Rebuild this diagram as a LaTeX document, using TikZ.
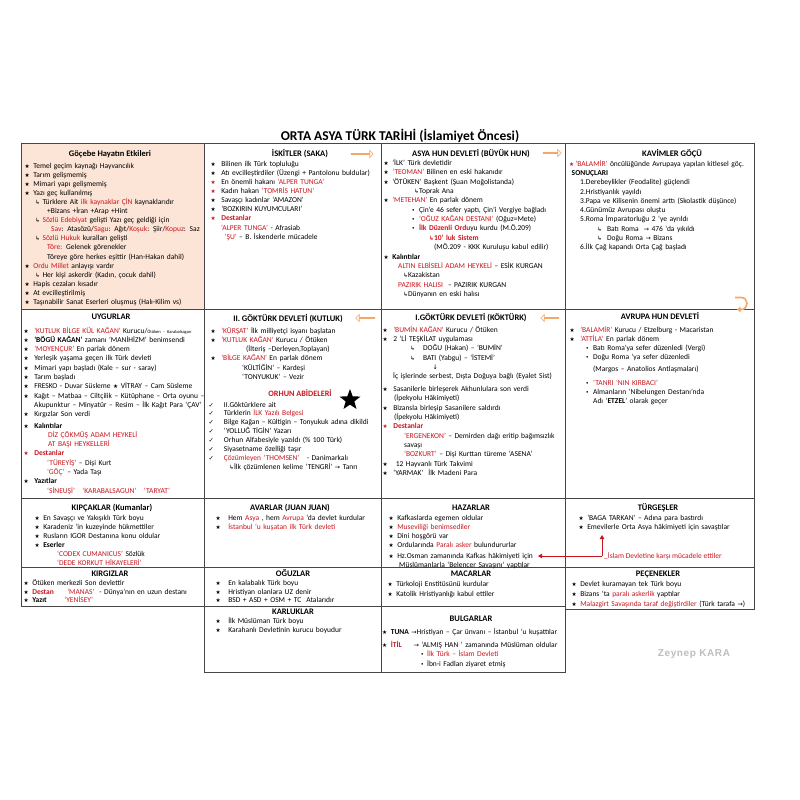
\documentclass[tikz,border=0pt]{standalone}
\usepackage{fontspec}
\setmainfont{Carlito}
\newfontfamily\symf{DejaVu Sans}
\newfontfamily\wmf[LetterSpace=6]{Liberation Sans}
\usetikzlibrary{shapes.geometric,shapes.arrows,arrows.meta}
\definecolor{tred}{RGB}{200,22,30}
\definecolor{lc}{RGB}{70,70,70}
\definecolor{pk}{RGB}{252,228,214}
\definecolor{oc}{RGB}{242,168,105}
\definecolor{wm}{RGB}{190,190,190}
\newcommand\Rd[1]{\textcolor{tred}{#1}}
\newcommand\RB[1]{\textcolor{tred}{\bfseries #1}}
\newcommand\sg{{\symf\fontsize{5.7}{5}\selectfont ★}}
\newcommand\St{\sg\hspace{3.5pt}}
\newcommand\Stt{\sg\hspace{5.5pt}}
\newcommand\Sttt{\sg\hspace{7.5pt}}
\newcommand\RSt{\textcolor{tred}{\sg}\hspace{3.5pt}}
\newcommand\RStt{\textcolor{tred}{\sg}\hspace{5.5pt}}
\newcommand\Hk{{\symf\fontsize{5.8}{5}\selectfont ↳}}
\newcommand\Ar{{\symf\fontsize{6.3}{5}\selectfont →}}
\newcommand\Dn{{\symf\fontsize{6.3}{5}\selectfont ↓}}
\newcommand\Ck{{\symf\fontsize{6.3}{5}\selectfont ✓}}
\newcommand\Bu{{\symf\fontsize{5.8}{5}\selectfont •}}
\newcommand\bfs[1]{\fontsize{7.5}{#1}\selectfont\lineskiplimit=-20pt\lineskip=0pt}
\newcommand\Ind[1]{\hspace*{#1pt}}
\tikzset{
  grid/.style={draw=lc, line width=0.8pt},
  hdr/.style={anchor=base, inner sep=0pt, font=\fontsize{8.5}{10}\selectfont\bfseries},
  body/.style={anchor=base west, align=left, text width=200pt, inner sep=0pt},
  sarr/.style={single arrow, draw=oc, fill=white, line width=0.6pt, minimum width=7pt, single arrow head extend=1.8pt, inner sep=0pt},
  redarr/.style={draw=tred, line width=0.8pt, -{Triangle[length=4pt,width=4.5pt]}},
}
\begin{document}
\begin{tikzpicture}[x=1pt,y=-1pt]
\useasboundingbox (0,0) rectangle (800,800);
\fill[white] (0,0) rectangle (800,800);
% table
\fill[pk] (21,143) rectangle (204,309);
\draw[grid] (21,143) rectangle (754,567);
\draw[grid] (204,143) -- (204,567) (381,143) -- (381,567) (565,143) -- (565,567);
\draw[grid] (21,309) -- (754,309) (21,498) -- (754,498);
\draw[grid] (21,567) rectangle (565,606) (204,567) -- (204,606) (381,567) -- (381,606);
\draw[grid] (565,567) rectangle (754,609);
\draw[grid] (204,606) rectangle (565,672) (381,606) -- (381,672);
% title
\node[anchor=base, inner sep=0pt, font=\fontsize{13.5}{15}\selectfont\bfseries] (title) at (400,140.5) {ORTA ASYA TÜRK TARİHİ (İslamiyet Öncesi)};
% row 1
\node[hdr] (h1) at (110,156) {Göçebe Hayatın Etkileri};
\node[body, font=\bfs{9.1}] (b1) at (24.5,168) {%
\St Temel geçim kaynağı Hayvancılık\\
\St Tarım gelişmemiş\\
\St Mimari yapı gelişmemiş\\
\St Yazı geç kullanılmış\\
\Ind{10.5}\Hk\ Türklere Ait \Rd{ilk kaynaklar ÇİN} kaynaklarıdır\\
\Ind{22.5}+Bizans +İran +Arap +Hint\\
\Ind{10.5}\Hk\ \Rd{Sözlü Edebiyat} gelişti Yazı geç geldiği için\\
\Ind{26.5}\Rd{Sav}: Atasözü/\Rd{Sagu}: Ağıt/\Rd{Koşuk}: Şiir/\Rd{Kopuz}: Saz\\
\Ind{10.5}\Hk\ \Rd{Sözlü Hukuk} kuralları gelişti\\
\Ind{22.5}\Rd{Töre:} Gelenek görenekler\\
\Ind{22.5}Töreye göre herkes eşittir (Han-Hakan dahil)\\
\St \Rd{Ordu Millet} anlayışı vardır\\
\Ind{10.5}\Hk\ Her kişi askerdir (Kadın, çocuk dahil)\\
\St Hapis cezaları kısadır\\
\St At evcilleştirilmiş\\
\St Taşınabilir Sanat Eserleri oluşmuş (Halı-Kilim vs)};
\node[hdr] (h2) at (300,156) {İSKİTLER (SAKA)};
\node[sarr, minimum height=22pt] (oa1) at (362,154) {};
\node[body, font=\bfs{9.1}] (b2) at (210.5,166.3) {%
\Stt Bilinen ilk Türk topluluğu\\
\Stt Atı evcilleştirdiler (Üzengi + Pantolonu buldular)\\
\RStt En önemli hakanı \Rd{‘ALPER TUNGA’}\\
\RStt Kadın hakan \Rd{‘TOMRİS HATUN’}\\
\Stt Savaşçı kadınlar ‘AMAZON’\\
\Stt ‘BOZKIRIN KUYUMCULARI’\\
\RStt\RB{Destanlar}\\
\Ind{10.5}\Rd{‘ALPER TUNGA’} - Afrasiab\\
\Ind{14}\Rd{‘ŞU’} – B. İskenderle mücadele};
\node[hdr] (h3) at (471,156) {ASYA HUN DEVLETİ (BÜYÜK HUN)};
\node[sarr, minimum height=18pt] (oa2) at (552,153) {};
\node[body, font=\bfs{9.34}] (b3) at (383.5,165.6) {%
\St ‘İLK’ Türk devletidir\\
\St \Rd{‘TEOMAN’} Bilinen en eski hakanıdır\\
\St ‘ÖTÜKEN’ Başkent (Şuan Moğolistanda)\\
\Ind{30.5}\Hk Toprak Ana\\
\St \Rd{‘METEHAN’} En parlak dönem\\
\Ind{28}\Bu\hspace{4pt}Çin’e 46 sefer yaptı, Çin’i Vergiye bağladı\\
\Ind{28}\Bu\hspace{4pt}\Rd{‘OĞUZ KAĞAN DESTANI’} (Oğuz=Mete)\\
\Ind{28}\Bu\hspace{4pt}\RB{İlk Düzenli Ordu}yu kurdu (M.Ö.209)\\
\Ind{45.5}\RB{\Hk 10’ luk Sistem}\\
\Ind{50.5}(MÖ.209 - KKK Kuruluşu kabul edilir)\\
\St \textbf{Kalıntılar}\\
\Ind{14.5}\Rd{ALTIN ELBİSELİ ADAM HEYKELİ} – ESİK KURGAN\\
\Ind{19.5}\Hk Kazakistan\\
\Ind{14.5}\Rd{PAZIRIK HALISI}\ \ – PAZIRIK KURGAN\\
\Ind{19.5}\Hk Dünyanın en eski halısı};
\node[hdr] (h4) at (672,156) {KAVİMLER GÖÇÜ};
\node[body, font=\bfs{9.25}] (b4) at (569,166.3) {%
\textcolor{tred}{\sg}\,\Rd{‘BALAMİR’} öncülüğünde Avrupaya yapılan kitlesel göç.\\
\Ind{2.5}\textbf{SONUÇLARI}\\
\Ind{11}1.Derebeylikler (Feodalite) güçlendi\\
\Ind{11}2.Hristiyanlık yayıldı\\
\Ind{11}3.Papa ve Kilisenin önemi arttı (Skolastik düşünce)\\
\Ind{11}4.Günümüz Avrupası oluştu\\
\Ind{11}5.Roma İmparatorluğu 2 ‘ye ayrıldı\\
\Ind{28}\Hk\hspace{5pt}Batı Roma \ \Ar\ 476 ‘da yıkıldı\\
\Ind{28}\Hk\hspace{5pt}Doğu Roma \Ar\ Bizans\\
\Ind{11}6.İlk Çağ kapandı Orta Çağ başladı};
\draw[oc, line width=1.6pt, -{Triangle[length=3.5pt,width=5.5pt]}] (735,297.5) -- (741,297.5) .. controls (749,297.5) and (749,309.5) .. (741,309.5) -- (737,309.5);
% row 2
\node[hdr] (h5) at (111,319) {UYGURLAR};
\node[body, font=\bfs{9.3}] (b5) at (23.5,333) {%
\Stt\Rd{‘KUTLUK BİLGE KÜL KAĞAN’} Kurucu/{\fontsize{4.5}{5}\selectfont Ötüken - Karabalsagun}\\
\Stt\textbf{‘BÖGÜ KAĞAN’} zamanı ‘MANİHİZM’ benimsendi\\
\Stt\Rd{‘MOYENÇUR’} En parlak dönem\\
\Stt Yerleşik yaşama geçen ilk Türk devleti\\
\Stt Mimari yapı başladı (Kale – sur - saray)\\
\Stt Tarım başladı\\
\Stt FRESKO - Duvar Süsleme \sg\ VİTRAY – Cam Süsleme\\
\Stt Kağıt – Matbaa – Ciltçilik – Kütüphane – Orta oyunu –\\
\Ind{10.5}Akupunktur – Minyatür – Resim – İlk Kağıt Para ‘ÇAV’\\
\Stt Kırgızlar Son verdi\\[2pt]
\Stt\textbf{Kalıntılar}\\
\Ind{24.5}\Rd{DİZ ÇÖKMÜŞ ADAM HEYKELİ}\\
\Ind{24.5}\Rd{AT BAŞI HEYKELLERİ}\\
\RStt\RB{Destanlar}\\
\Ind{23.5}\Rd{‘TÜREYİŞ’} – Dişi Kurt\\
\Ind{23.5}\Rd{‘GÖÇ’} – Yada Taşı\\
\Stt\textbf{Yazıtlar}\\[0.7pt]
\Ind{23.5}\Rd{‘SİNEUŞİ’\ \ \ ‘KARABALSAGUN’\ \ \ ‘TARYAT’}};
\node[hdr] (h6) at (288,321) {II. GÖKTÜRK DEVLETİ (KUTLUK)};
\node[sarr, minimum height=19pt, shape border rotate=180] (oa3) at (365.5,318) {};
\node[body, font=\bfs{9.3}] (b6) at (210.5,333) {%
\Stt\Rd{‘KÜRŞAT’} İlk milliyetçi isyanı başlatan\\
\Stt\Rd{‘KUTLUK KAĞAN’} Kurucu / Ötüken\\
\Ind{35.5}(İlteriş –Derleyen,Toplayan)\\
\Stt\Rd{‘BİLGE KAĞAN’} En parlak dönem\\
\Ind{31.5}‘KÜLTİĞİN’ – Kardeşi\\
\Ind{31.5}‘TONYUKUK’ – Vezir};
\node[anchor=base, inner sep=0pt, font=\fontsize{8.2}{10}\selectfont\bfseries, text=tred] (orhun) at (300,396.5) {ORHUN ABİDELERİ};
\node[star, star points=5, star point ratio=2.4, fill=black, minimum size=22pt, inner sep=0pt] (bigstar) at (350,400) {};
\node[body, font=\bfs{8.95}] (b6b) at (208.5,407) {%
\Ck\hspace{10pt}II.Göktürklere ait\\
\Ck\hspace{10pt}Türklerin \Rd{İLK Yazılı Belgesi}\\
\Ck\hspace{10pt}Bilge Kağan – Kültigin – Tonyukuk adına dikildi\\
\Ck\hspace{10pt}‘YOLLUĞ TİGİN’ Yazarı\\
\Ck\hspace{10pt}Orhun Alfabesiyle yazıldı (\% 100 Türk)\\
\Ck\hspace{10pt}Siyasetname özelliği taşır\\
\Ck\hspace{10pt}\Rd{Çözümleyen ‘THOMSEN’}\ \ \ - Danimarkalı\\
\Ind{20.5}\Hk İlk çözümlenen kelime ‘TENGRİ’ \Ar\ Tanrı};
\node[hdr] (h7) at (471,320) {I.GÖKTÜRK DEVLETİ (KÖKTÜRK)};
\node[sarr, minimum height=18pt, shape border rotate=180] (oa4) at (550,318) {};
\node[body, font=\bfs{9.35}] (b7) at (382.5,332) {%
\Stt\Rd{‘BUMİN KAĞAN’} Kurucu / Ötüken\\
\Stt 2 ‘Lİ TEŞKİLAT uygulaması\\
\Ind{27.5}\Hk\hspace{8pt}DOĞU (Hakan) – ‘BUMİN’\\
\Ind{27.5}\Hk\hspace{8pt}BATI (Yabgu) – ‘İSTEMİ’\\
\Ind{50}\Dn\\
\Ind{10.5}İç işlerinde serbest, Dışta Doğuya bağlı (Eyalet Sist)\\[3.3pt]
\Stt Sasanilerle birleşerek Akhunlulara son verdi\\
\Ind{11.5}(İpekyolu Hâkimiyeti)\\
\Stt Bizansla birleşip Sasanilere saldırdı\\
\Ind{11.5}(İpekyolu Hâkimiyeti)\\
\RStt\RB{Destanlar}\\
\Ind{21.5}\Rd{‘ERGENEKON’} – Demirden dağı eritip bağımsızlık\\
\Ind{21.5}savaşı\\
\Ind{21.5}\Rd{‘BOZKURT’} – Dişi Kurttan türeme ‘ASENA’\\
\Stt\ 12 Hayvanlı Türk Takvimi\\
\Stt‘YARMAK’\ \ İlk Madeni Para};
\node[hdr] (h8) at (660,319) {AVRUPA HUN DEVLETİ};
\node[body, font=\bfs{9.3}] (b8) at (569.5,332) {%
\Stt\Rd{‘BALAMİR’} Kurucu / Etzelburg - Macaristan\\
\Stt\Rd{‘ATTİLA’} En parlak dönem\\
\Ind{16}\Bu\hspace{4pt}Batı Roma’ya sefer düzenledi (Vergi)\\
\Ind{16}\Bu\hspace{4pt}Doğu Roma ‘ya sefer düzenledi\\[2pt]
\Ind{23.5}(Margos – Anatolios Antlaşmaları)\\[4.5pt]
\Ind{16}\Bu\hspace{4pt}\Rd{‘TANRI ‘NIN KIRBACI’}\\
\Ind{16}\Bu\hspace{4pt}Almanların ‘Nibelungen Destanı’nda\\
\Ind{23.5}Adı ‘\textbf{ETZEL}’ olarak geçer};
% row 3
\node[hdr] (h9) at (112,510) {KIPÇAKLAR (Kumanlar)};
\node[body, font=\bfs{9.1}] (b9) at (34.5,520) {%
\St En Savaşçı ve Yakışıklı Türk boyu\\
\St Karadeniz ‘in kuzeyinde hükmettiler\\
\St Rusların IGOR Destanına konu oldular\\
\St\textbf{Eserler}\\
\Ind{22.5}\Rd{‘CODEX CUMANICUS’} Sözlük\\
\Ind{22.5}\Rd{‘DEDE KORKUT HİKAYELERİ’}};
\node[hdr] (h10) at (290,510) {AVARLAR (JUAN JUAN)};
\node[body, font=\bfs{9.1}] (b10) at (215.5,520) {%
\Sttt Hem \Rd{Asya} , hem \Rd{Avrupa} ‘da devlet kurdular\\
\Sttt\Rd{İstanbul ‘u kuşatan ilk Türk devleti}};
\node[hdr] (h11) at (471,510) {HAZARLAR};
\node[body, font=\bfs{9.1}] (b11) at (388.5,520) {%
\St Kafkaslarda egemen oldular\\
\St\Rd{Museviliği benimsediler}\\
\St Dini hoşgörü var\\
\St Ordularında \Rd{Paralı asker} bulundururlar\\[1.8pt]
\St Hz.Osman zamanında Kafkas hâkimiyeti için\\
\Ind{10.5}Müslümanlarla ‘Belencer Savaşını’ yaptılar};
\node[hdr] (h12) at (658,510) {TÜRGEŞLER};
\node[body, font=\bfs{9.1}] (b12) at (578.5,520) {%
\St ‘BAGA TARKAN’ – Adına para bastırdı\\
\St Emevilerle Orta Asya hâkimiyeti için savaştılar};
\node[anchor=base west, inner sep=0pt, text=tred, font=\bfs{9}] (isl) at (604,558.3) {\_İslam Devletine karşı mücadele ettiler};
\coordinate (rj) at (602,556);
\coordinate (rl) at (538,556);
\coordinate (ru) at (602,535);
\draw[redarr] (rj) -- (rl);
\draw[redarr] (rj) -- (ru);
% row 4
\node[hdr] (h13) at (110,576) {KIRGIZLAR};
\node[body, font=\bfs{8.4}] (b13) at (23.5,585.6) {%
\St Ötüken merkezli Son devlettir\\
\St\makebox[35pt][l]{\RB{Destan}}\Rd{‘MANAS’}\ \ - Dünya’nın en uzun destanı\\
\St\makebox[32pt][l]{\textbf{Yazıt}}\Rd{‘YENİSEY’}};
\node[hdr] (h14) at (293,576) {OĞUZLAR};
\node[body, font=\bfs{8.4}] (b14) at (215.5,585.6) {%
\Sttt En kalabalık Türk boyu\\
\Sttt Hristiyan olanlara UZ denir\\
\Sttt BSD + ASD + OSM + TC\ \ Atalarıdır};
\node[hdr] (h15) at (471,576) {MACARLAR};
\node[body, font=\bfs{10}] (b15) at (387.5,586.6) {%
\St Türkoloji Enstitüsünü kurdular\\
\St Katolik Hristiyanlığı kabul ettiler};
\node[hdr] (h16) at (658,576) {PEÇENEKLER};
\node[body, font=\bfs{10}] (b16) at (571.5,586.6) {%
\St Devlet kuramayan tek Türk boyu\\
\St Bizans ‘ta \Rd{paralı askerlik} yaptılar\\
\St\Rd{Malazgirt Savaşında taraf değiştirdiler} (Türk tarafa \Ar)};
% row 5
\node[hdr] (h17) at (293,614.7) {KARLUKLAR};
\node[body, font=\bfs{9}] (b17) at (215.5,623.3) {%
\Sttt İlk Müslüman Türk boyu\\
\Sttt Karahanlı Devletinin kurucu boyudur};
\node[hdr] (h18) at (471,621.3) {BULGARLAR};
\node[body, font=\bfs{9.6}] (b18) at (382,634) {%
\St\textbf{TUNA}\ \Ar Hristiyan – Çar ünvanı – İstanbul ‘u kuşattılar\\[3.7pt]
\St\makebox[23pt][l]{\RB{İTİL}}\Ar\ ‘ALMIŞ HAN ’ zamanında Müslüman oldular\\
\Ind{38.5}\Bu\hspace{3pt}\Rd{İlk Türk – İslam Devleti}\\
\Ind{38.5}\Bu\hspace{3pt}İbn-i Fadlan ziyaret etmiş};
\node[anchor=base, inner sep=0pt, text=wm, font=\wmf\bfseries\fontsize{10}{12}\selectfont] (wmk) at (694,656.5) {Zeynep KARA};
\end{tikzpicture}
\end{document}
